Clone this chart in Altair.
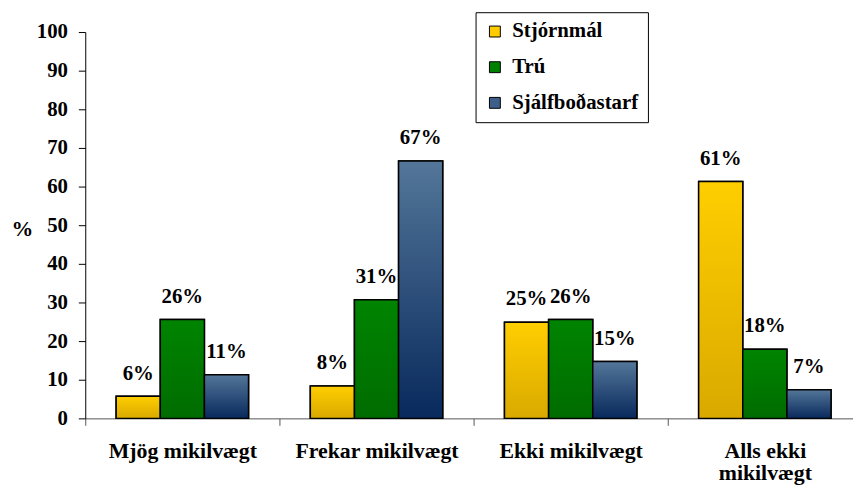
import altair as alt
import pandas as pd

groups = ["Mjög mikilvægt", "Frekar mikilvægt", "Ekki mikilvægt", "Alls ekki mikilvægt"]
series = ["Stjórnmál", "Trú", "Sjálfboðastarf"]
stjornmal = [5.7, 8.4, 24.9, 61.3]
tru = [25.6, 30.7, 25.6, 17.9]
sjalfbod = [11.3, 66.6, 14.7, 7.4]
y_ticks = list(range(0, 101, 10))

rows = []
for i, g in enumerate(groups):
    for s, vals in zip(series, [stjornmal, tru, sjalfbod]):
        rows.append({"group": g, "series": s, "value": vals[i]})
df = pd.DataFrame(rows)

FONT = "Liberation Serif"
swatch = ["#FFCC00", "#008000", "#3E5F8A"]
grads = {
    "Stjórnmál": ("#FFCE00", "#D9A900"),
    "Trú": ("#008400", "#006C00"),
    "Sjálfboðastarf": ("#537699", "#08295C"),
}

x_enc = alt.X(
    "group:N",
    sort=groups,
    scale=alt.Scale(domain=groups, range=[0, 784], paddingInner=0, paddingOuter=0),
    axis=alt.Axis(
        title=None, labelAngle=0, tickBand="extent", tickSize=7, tickColor="#555",
        domainColor="#555", labelFont=FONT, labelFontWeight="bold", labelFontSize=22,
        labelColor="#000", labelPadding=15, labelLineHeight=23,
        labelExpr="datum.label == 'Alls ekki mikilvægt' ? ['Alls ekki', 'mikilvægt'] : datum.label",
    ),
)
xo_enc = alt.XOffset(
    "series:N", sort=series,
    scale=alt.Scale(domain=series, paddingInner=0, paddingOuter=0.7),
)
y_enc = alt.Y(
    "value:Q",
    scale=alt.Scale(domain=[0, 100], nice=False),
    axis=alt.Axis(
        values=y_ticks, grid=False, tickSize=7, tickColor="#000", domainColor="#000",
        labelFont=FONT, labelFontWeight="bold", labelFontSize=21, labelColor="#000",
        labelPadding=11, title="%", titleAngle=0, titleX=-64, titleY=198,
        titleAlign="center", titleBaseline="middle", titleFont=FONT,
        titleFontWeight="bold", titleFontSize=22, titleColor="#000",
    ),
)

base = alt.Chart(df).encode(x=x_enc, xOffset=xo_enc, y=y_enc)

legend_bars = base.mark_bar(stroke="#000", strokeWidth=1.5).encode(
    color=alt.Color(
        "series:N", sort=series,
        scale=alt.Scale(domain=series, range=swatch),
        legend=alt.Legend(
            title=None, orient="none", legendX=394, legendY=-20, strokeColor="#000",
            fillColor="#fff", padding=9, rowPadding=14, symbolType="square",
            symbolSize=121, symbolStrokeColor="#000", symbolStrokeWidth=1,
            labelFont=FONT, labelFontWeight="bold", labelFontSize=21,
            labelColor="#000", labelOffset=7,
        ),
    )
)

layers = [legend_bars]
for s in series:
    top, bot = grads[s]
    g = alt.Gradient(
        gradient="linear",
        stops=[alt.GradientStop(color=top, offset=0), alt.GradientStop(color=bot, offset=1)],
        x1=0, x2=0, y1=0, y2=1,
    )
    layers.append(
        base.transform_filter(alt.datum.series == s).mark_bar(
            fill=g, stroke="#000", strokeWidth=1.5
        )
    )

labels = base.transform_calculate(
    label="format(datum.value, '.0f') + '%'"
).mark_text(
    font=FONT, fontWeight="bold", fontSize=21, color="#000", baseline="alphabetic", dy=-17
).encode(text="label:N")
layers.append(labels)

chart = alt.layer(*layers).properties(
    width=784, height=390,
    autosize=alt.AutoSizeParams(type="none"),
    padding={"left": 78, "top": 22, "right": -9, "bottom": 65},
).configure_view(stroke=None)

chart.save("out.html", embed_options={"renderer": "svg", "actions": False})
